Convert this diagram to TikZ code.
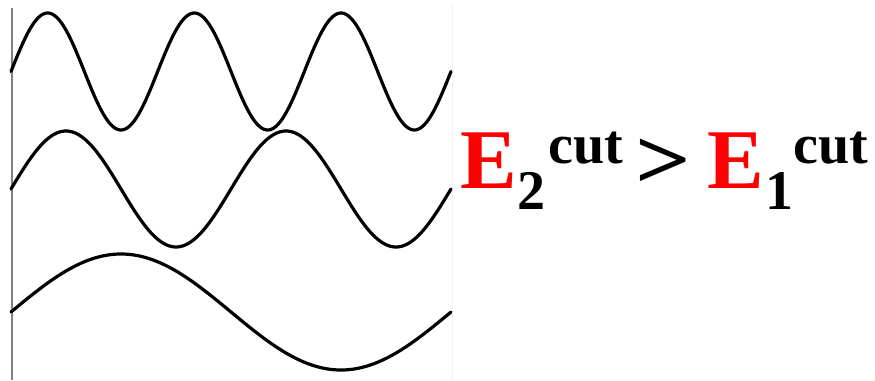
\documentclass[tikz,border=0pt]{standalone}
\usepackage{fontspec}
\setmainfont{Liberation Serif}
\definecolor{ered}{RGB}{255,0,0}
\begin{document}
\begin{tikzpicture}[x=1pt,y=-1pt,
  wave/.style={line width=3.2pt,black,line join=round,line cap=round},
  big/.style={inner sep=0pt,anchor=base west,font=\fontsize{85}{85}\selectfont\bfseries},
  small/.style={inner sep=0pt,anchor=base west,font=\fontsize{56}{56}\selectfont\bfseries}]
\useasboundingbox[fill=white] (0,0) rectangle (875,380);
\draw[line width=2pt,black!50] (11.5,8) -- (11.5,380);
\draw[line width=1pt,black!5] (452.5,5) -- (452.5,380);
\draw[wave] plot[domain=11:451,samples=240,smooth] (\x,{71.5-58.5*sin((\x-11)/146.667*360)});
\draw[wave] plot[domain=11:451,samples=240,smooth] (\x,{189-58*sin((\x-11)/220*360)});
\draw[wave] plot[domain=11:451,samples=240,smooth] (\x,{312-58*sin((\x-11)/440*360)});
\node[big,text=ered] (e2) at (460,188) {E};
\node[small] (s2) at (517,209) {2};
\node[small] (c2) at (548,163) {cut};
\node[big,xscale=1.15] (gt) at (635,188) {>};
\node[big,text=ered] (e1) at (707,188) {E};
\node[small] (s1) at (765,209) {1};
\node[small] (c1) at (793,163) {cut};
\end{tikzpicture}
\end{document}
